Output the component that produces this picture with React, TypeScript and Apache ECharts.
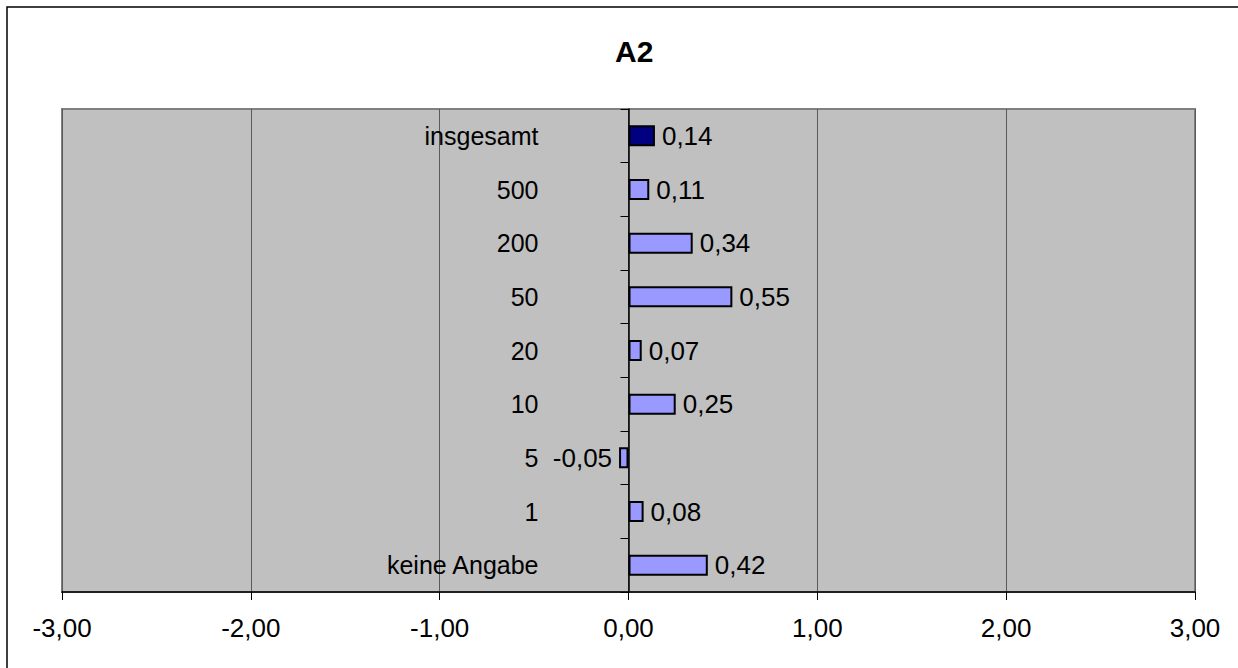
import React, { useEffect, useRef } from "react";
import * as echarts from "echarts";

const categories = ["keine Angabe", "1", "5", "10", "20", "50", "200", "500", "insgesamt"];
const values = [0.42, 0.08, -0.05, 0.25, 0.07, 0.55, 0.34, 0.11, 0.14];
const highlightCategory = "insgesamt";
const xMin = -3;
const xMax = 3;
const xStep = 1;

const FONT = "'Liberation Sans', Arial, sans-serif";
const fmt = (v: number) => v.toFixed(2).replace(".", ",");

const W = 1238;
const H = 668;
const GRID = { left: 62, right: 43, top: 109, bottom: 76 };
const plotWidth = W - GRID.left - GRID.right;
// place the category axis at value 0 of the value axis
const zeroOffset = -((0 - xMin) / (xMax - xMin)) * plotWidth;

export default function App() {
  const ref = useRef<HTMLDivElement>(null);
  useEffect(() => {
    if (!ref.current) return;
    const chart = echarts.init(ref.current, undefined, { renderer: "svg" });
    chart.setOption({
      animation: false,
      backgroundColor: "#ffffff",
      title: {
        text: "A2",
        left: 610,
        top: 31,
        textStyle: { fontFamily: FONT, fontSize: 30, fontWeight: "bold", color: "#000" },
      },
      graphic: [
        {
          type: "rect",
          shape: { x: 7, y: 7, width: 1250, height: 680 },
          style: { fill: "none", stroke: "#000", lineWidth: 1.5 },
          silent: true,
        },
      ],
      grid: {
        ...GRID,
        containLabel: false,
        outerBoundsMode: "none",
        show: true,
        backgroundColor: "#C0C0C0",
        borderColor: "#808080",
        borderWidth: 2,
      },
      xAxis: {
        type: "value",
        min: xMin,
        max: xMax,
        interval: xStep,
        axisLine: { show: true, lineStyle: { color: "#000", width: 1.5 } },
        axisTick: { show: true, length: 8, lineStyle: { color: "#000" } },
        splitLine: { show: true, lineStyle: { color: "#5a5a5a", width: 1 } },
        axisLabel: {
          formatter: (v: number) => fmt(v),
          fontFamily: FONT,
          fontSize: 26,
          color: "#000",
          margin: 23,
        },
      },
      yAxis: {
        type: "category",
        data: categories,
        position: "left",
        offset: zeroOffset,
        axisLine: { show: true, onZero: false, lineStyle: { color: "#000", width: 1.5 } },
        axisTick: { show: true, length: 8, lineStyle: { color: "#000" } },
        axisLabel: {
          fontFamily: FONT,
          fontSize: 25,
          color: "#000",
          margin: 90,
        },
        splitLine: { show: false },
      },
      series: [
        {
          type: "bar",
          barWidth: 21,
          data: values.map((v, i) => ({
            value: v,
            itemStyle: {
              color: categories[i] === highlightCategory ? "#000080" : "#9999FF",
              borderColor: "#000",
              borderWidth: 2,
            },
            label: { position: v < 0 ? "left" : "right" },
          })),
          label: {
            show: true,
            distance: 7,
            formatter: (p: any) => fmt(p.value),
            fontFamily: FONT,
            fontSize: 26,
            color: "#000",
          },
        },
      ],
    });
    return () => chart.dispose();
  }, []);
  return (
    <div
      ref={ref}
      style={{ position: "fixed", left: 0, top: 0, width: W, height: H }}
    />
  );
}
